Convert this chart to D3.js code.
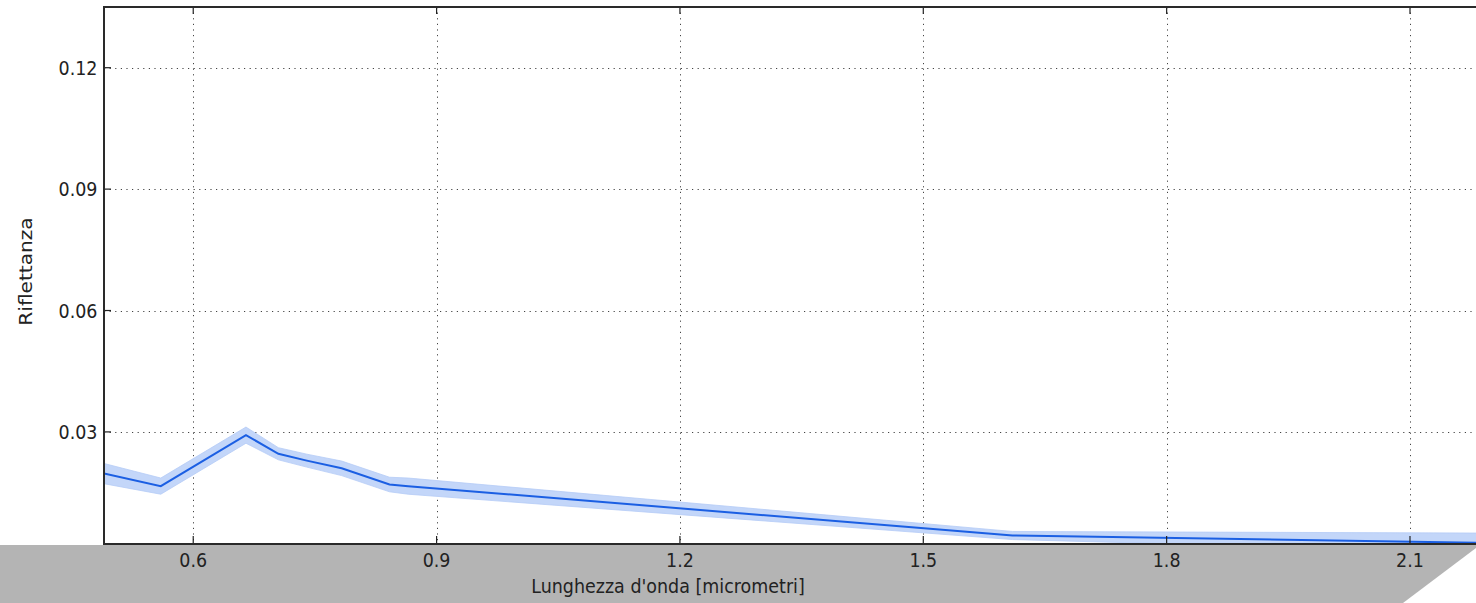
<!DOCTYPE html>
<html>
<head>
<meta charset="utf-8">
<script src="https://cdn.jsdelivr.net/npm/d3@7"></script>
<style>
  html, body { margin: 0; padding: 0; background: #ffffff; overflow: hidden; }
  svg { display: block; }
  text { font-family: "DejaVu Sans", sans-serif; fill: #222; }
</style>
</head>
<body>
<svg id="chart" width="1476" height="603"></svg>
<script>
// Band centres (micrometres) and mean reflectance with its spread
const wavelengths = [0.490, 0.560, 0.665, 0.705, 0.740, 0.783, 0.842, 0.865, 1.610, 2.190];
const reflectance = [0.0197, 0.0166, 0.0292, 0.0246, 0.0229, 0.0210, 0.0170, 0.0166, 0.0044, 0.0026];
const spread      = [0.0025, 0.0020, 0.0020, 0.0015, 0.0016, 0.0018, 0.0018, 0.0020, 0.0010, 0.0024];

const xTicks = [0.6, 0.9, 1.2, 1.5, 1.8, 2.1];
const yTicks = [0.03, 0.06, 0.09, 0.12];
const xDomain = [0.49, 2.19];
const yDomain = [0.0023, 0.135];

const xTitle = "Lunghezza d'onda [micrometri]";
const yTitle = "Riflettanza";

(function draw() {
  const svg = d3.select("#chart");
  const W = 1476, H = 603;
  const m = { left: 104, right: 1483, top: 7, bottom: 544 };
  const stretch = 1.15;

  const x = d3.scaleLinear().domain(xDomain).range([m.left, m.right]);
  const y = d3.scaleLinear().domain(yDomain).range([m.bottom, m.top]);

  svg.append("rect").attr("width", W).attr("height", H).attr("fill", "#fff");

  svg.append("defs").append("clipPath").attr("id", "plot-clip")
    .append("rect").attr("x", m.left).attr("y", m.top)
    .attr("width", m.right - m.left).attr("height", m.bottom - m.top);

  // dotted grid
  const grid = svg.append("g").attr("stroke", "#444").attr("stroke-width", 1)
    .attr("stroke-dasharray", "1.2,4.4");
  grid.selectAll(".gx").data(xTicks).join("line")
    .attr("x1", d => Math.round(x(d)) + 0.5).attr("x2", d => Math.round(x(d)) + 0.5)
    .attr("y1", m.top).attr("y2", m.bottom);
  grid.selectAll(".gy").data(yTicks).join("line")
    .attr("y1", d => Math.round(y(d)) + 0.5).attr("y2", d => Math.round(y(d)) + 0.5)
    .attr("x1", m.left).attr("x2", m.right);

  const rows = wavelengths.map((w, i) => ({ w, v: reflectance[i], s: spread[i] }));
  const plot = svg.append("g").attr("clip-path", "url(#plot-clip)");

  plot.append("path").datum(rows)
    .attr("fill", "#c3d6f9")
    .attr("stroke", "#b5ccf6").attr("stroke-width", 0.8)
    .attr("d", d3.area().x(d => x(d.w)).y0(d => y(d.v - d.s)).y1(d => y(d.v + d.s)));

  plot.append("path").datum(rows)
    .attr("fill", "none")
    .attr("stroke", "#1b5fe3").attr("stroke-width", 2)
    .attr("stroke-linejoin", "miter")
    .attr("d", d3.line().x(d => x(d.w)).y(d => y(d.v)));

  // grey backdrop under the axis
  svg.append("path")
    .attr("fill", "#b4b4b4")
    .attr("d", `M0,${m.bottom + 1}L${W},${m.bottom + 1}L${W},548L1403,${H}L0,${H}Z`);

  // inward ticks (bottom, top, left)
  const ticks = svg.append("g").attr("stroke", "#222").attr("stroke-width", 1.2);
  ticks.selectAll(".tb").data(xTicks).join("line")
    .attr("x1", d => x(d)).attr("x2", d => x(d)).attr("y1", m.bottom).attr("y2", m.bottom - 8);
  ticks.selectAll(".tt").data(xTicks).join("line")
    .attr("x1", d => x(d)).attr("x2", d => x(d)).attr("y1", m.top).attr("y2", m.top + 7);
  ticks.selectAll(".tl").data(yTicks).join("line")
    .attr("x1", m.left).attr("x2", m.left + 7).attr("y1", d => y(d)).attr("y2", d => y(d));

  // spines
  const spines = svg.append("g").attr("stroke", "#2a2a2a").attr("stroke-width", 2).attr("fill", "none");
  spines.append("line").attr("x1", m.left).attr("x2", m.right).attr("y1", m.bottom).attr("y2", m.bottom);
  spines.append("line").attr("x1", m.left).attr("x2", m.right).attr("y1", m.top).attr("y2", m.top);
  spines.append("line").attr("x1", m.left).attr("x2", m.left).attr("y1", m.top - 1).attr("y2", m.bottom + 1);

  // tick labels
  svg.append("g").selectAll("text").data(xTicks).join("text")
    .attr("transform", d => `translate(${x(d)},567) scale(1,${stretch})`)
    .attr("text-anchor", "middle").attr("font-size", 17.5)
    .text(d => d3.format(".1f")(d));
  svg.append("g").selectAll("text").data(yTicks).join("text")
    .attr("transform", d => `translate(97.5,${y(d) + 7}) scale(1,${stretch})`)
    .attr("text-anchor", "end").attr("font-size", 17.5)
    .text(d => d3.format(".2f")(d));

  // axis titles
  svg.append("text")
    .attr("transform", `translate(668,593) scale(1,${stretch})`)
    .attr("text-anchor", "middle").attr("font-size", 17.5)
    .text(xTitle);
  svg.append("text")
    .attr("transform", `translate(31.5,271.5) scale(1,${stretch}) rotate(-90)`)
    .attr("text-anchor", "middle").attr("font-size", 17.5)
    .text(yTitle);
})();
</script>
</body>
</html>
